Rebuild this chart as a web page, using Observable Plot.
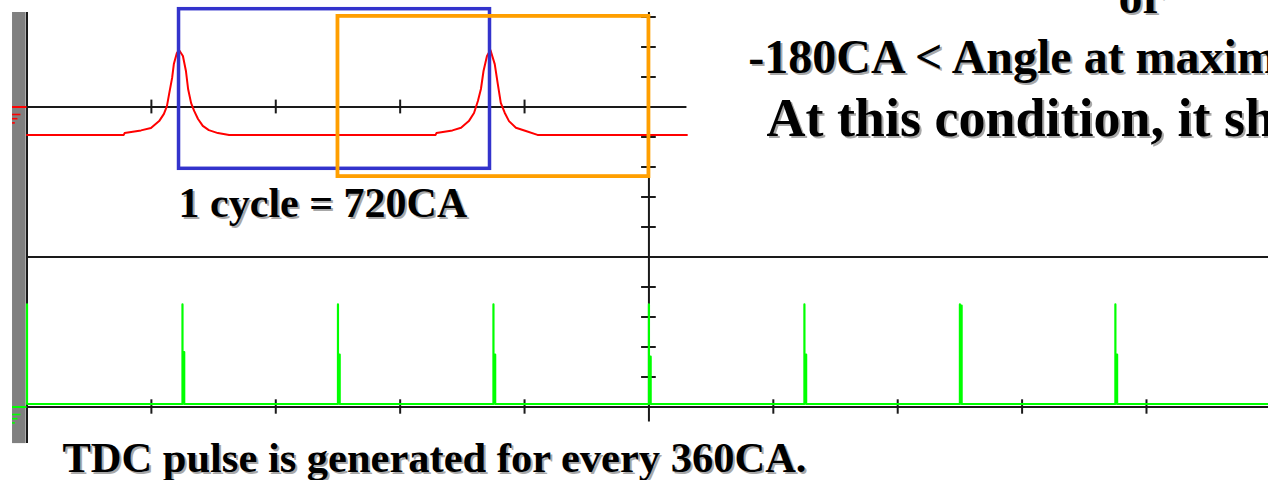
<!DOCTYPE html>
<html><head><meta charset="utf-8">
<script src="https://cdn.jsdelivr.net/npm/d3@7"></script>
<script src="https://cdn.jsdelivr.net/npm/@observablehq/plot@0.6"></script>
<style>
html,body{margin:0;padding:0;background:#fff;overflow:hidden;width:1268px;height:480px}
svg{overflow:hidden}
</style></head><body><div id="chart"></div>
<script>
// ---- data (crank angle in CA, levels in screen divisions relative to each channel's axis) ----
const redCA = [0,224,226,264,287,306,317,324,329,336,340,347,352,361,368,373,380,387,396,407,421,442,468,
  946,948,985,1005,1023,1035,1044,1051,1057,1065,1073,1083,1090,1097,1106,1116,1132,1155,1182,1528];
const redLevel = [-0.93,-0.93,-0.87,-0.78,-0.70,-0.47,-0.23,0.03,0.43,0.97,1.43,1.80,1.90,1.70,1.20,0.60,0.13,-0.13,-0.40,-0.63,-0.77,-0.87,-0.93,
  -0.93,-0.87,-0.78,-0.69,-0.47,-0.20,0.20,0.60,1.20,1.70,1.90,1.43,0.77,0.14,-0.19,-0.47,-0.69,-0.80,-0.93,-0.93];

const tdcCA = [0,360,720,1080,1440,1800,2160,2520];
const tdcPeak = [3.42,3.42,3.42,3.42,3.42,3.42,3.42,3.42];
const tdcShoulder = [0.1,1.83,1.75,1.75,1.68,1.75,3.38,1.75];
const tdcBase = 0.1;

const axisTicksCA = [288,576,864,1152,1728,2016,2304,2592];
const topAxisTicksCA = [288,576,864,1152];
const divTicks = [8,7,6,4,3,2,1,-1,-2,-3,-4];

const boxStartCA = [352,720];
const boxEndCA = [1072,1440];
const boxTop = [8.26,8.02];
const boxBottom = [2.94,2.68];

const noteTexts = ["or","-180CA < Angle at maximum","At this condition, it shows","1 cycle = 720CA","TDC pulse is generated for every 360CA."];
const noteCA = [2527,1670,1712,351,82];
const noteLevel = [8.12,6.15,4.05,1.32,-7.18];
const noteSize = [48,48,54,42,42.5];

// ---- layout constants ----
const topCh = 5, botCh = -5, endCA = 2880, topEndCA = 1528, centerCA = 1440;
const screenTop = 8.15, screenBottom = -6.22;

const red = redCA.map((x,i)=>({x, v: redLevel[i] + topCh}));
const green = [];
tdcCA.forEach((p,i)=>{
  if (i>0) green.push({x:p, v: tdcBase + botCh});
  green.push({x:p, v: tdcPeak[i] + botCh});
  green.push({x:p, v: tdcShoulder[i] + botCh});
  green.push({x:p+4, v: tdcShoulder[i] + botCh});
  green.push({x:p+4, v: tdcBase + botCh});
});
green.push({x:endCA, v: tdcBase + botCh});
const boxes = boxStartCA.map((s,i)=>({x1:s, x2:boxEndCA[i], y1:boxBottom[i], y2:boxTop[i]}));
const ink = "#1a1a1a";
const font = "'Liberation Serif', 'Times New Roman', serif";

function note(i, fill, dx, dy){
  return Plot.text([noteTexts[i]], {x: ()=>noteCA[i], y: ()=>noteLevel[i], text: d=>d, textAnchor:"start", lineAnchor:"bottom",
    fontSize: noteSize[i], fontWeight:"bold", fontFamily: font, fill, dx, dy});
}

const chart = Plot.plot({
  width: 1268, height: 480, margin: 0,
  style: {background:"#fff", overflow:"hidden"},
  x: {domain:[0,endCA], range:[26.5, 26.5 + endCA*0.4319], axis:null},
  y: {domain:[-7.45, 8.55], range:[480,0], axis:null},
  marks: [
    Plot.rect([0], {x1:()=>-33.5, x2:()=>-2, y1:()=>screenBottom, y2:()=>screenTop, fill:"#808080"}),
    Plot.ruleX([0], {y1:screenBottom, y2:screenTop, stroke:ink, strokeWidth:2}),
    Plot.ruleY([0], {x1:0, x2:endCA, stroke:ink, strokeWidth:2}),
    Plot.ruleY([topCh], {x1:0, x2:topEndCA, stroke:ink, strokeWidth:2}),
    Plot.ruleY([botCh], {x1:0, x2:endCA, stroke:ink, strokeWidth:2}),
    Plot.ruleX([centerCA], {y1:-5.5, y2:screenTop, stroke:ink, strokeWidth:2}),
    Plot.ruleY(divTicks, {x1:centerCA-17, x2:centerCA+17, stroke:ink, strokeWidth:2}),
    Plot.ruleX(topAxisTicksCA, {y1:topCh-0.23, y2:topCh+0.23, stroke:ink, strokeWidth:2}),
    Plot.ruleX(axisTicksCA, {y1:botCh-0.24, y2:botCh+0.24, stroke:ink, strokeWidth:2}),
    Plot.line(red, {x:"x", y:"v", stroke:"#ff0000", strokeWidth:2}),
    Plot.line(green, {x:"x", y:"v", stroke:"#00ff00", strokeWidth:2.2}),
    // channel markers
    Plot.ruleY([topCh], {x1:-33.5, x2:0, stroke:"#ff0000", strokeWidth:2}),
    Plot.ruleY([topCh-0.25, topCh-0.39, topCh-0.53], {x1:-33.5, x2:(d,i)=>[-14,-21,-27][i], stroke:"#ff0000", strokeWidth:1.6}),
    Plot.ruleY([botCh], {x1:-33.5, x2:0, stroke:"#00ff00", strokeWidth:2}),
    Plot.ruleY([botCh-0.25, botCh-0.39, botCh-0.53], {x1:-33.5, x2:(d,i)=>[-14,-21,-27][i], stroke:"#00ff00", strokeWidth:1.6}),
    Plot.rect(boxes.slice(0,1), {x1:"x1", x2:"x2", y1:"y1", y2:"y2", fill:"none", stroke:"#3333cc", strokeWidth:3.5}),
    Plot.rect(boxes.slice(1,2), {x1:"x1", x2:"x2", y1:"y1", y2:"y2", fill:"none", stroke:"#ff9f00", strokeWidth:3.8}),
    ...noteTexts.map((_,i)=>note(i, "#a8a8a8", 2, 2)),
    ...noteTexts.map((_,i)=>note(i, "#000", 0, 0))
  ]
});
document.getElementById("chart").appendChild(chart);
</script></body></html>
